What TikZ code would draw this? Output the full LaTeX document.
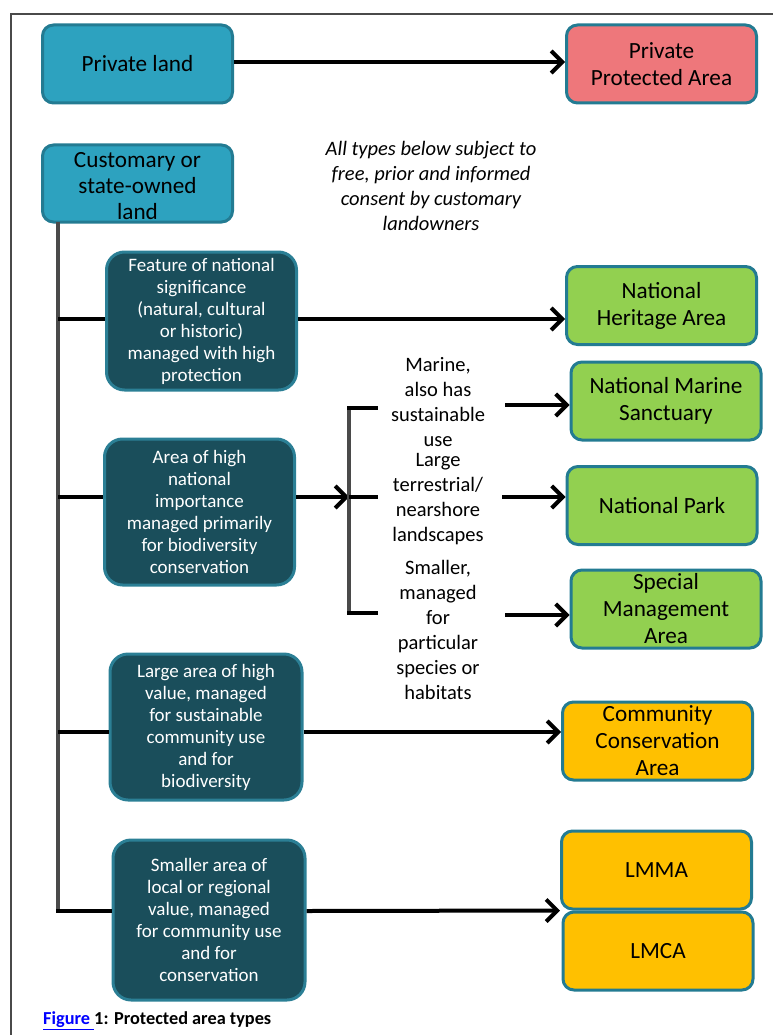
\documentclass[tikz,border=0pt]{standalone}
\usepackage{fontspec}
\setmainfont{Carlito}
\usepackage{xcolor}
\usetikzlibrary{arrows.meta}
\definecolor{lightteal}{HTML}{2DA2BF}
\definecolor{edgeteal}{HTML}{237B92}
\definecolor{darkteal}{HTML}{1A4E5B}
\definecolor{darkedge}{HTML}{2B7F95}
\definecolor{pinkfill}{HTML}{EE777B}
\definecolor{greenfill}{HTML}{92D050}
\definecolor{amberfill}{HTML}{FFC000}
\definecolor{trunkgray}{HTML}{4A4A4A}
\tikzset{
  box/.style={draw=edgeteal, line width=3pt, rounded corners=11pt, align=center,
    minimum width=190pt, minimum height=78pt, inner sep=0pt,
    font={\fontsize{23.2}{27}\selectfont}},
  lightbox/.style={box, fill=lightteal},
  darkbox/.style={box, fill=darkteal, draw=darkedge, text=white, rounded corners=18pt,
    font={\fontsize{19}{22}\selectfont}},
  pinkbox/.style={box, fill=pinkfill},
  greenbox/.style={box, fill=greenfill},
  amberbox/.style={box, fill=amberfill},
  link/.style={line width=4pt},
  arr/.style={line width=4pt, -{Straight Barb[length=11pt,width=22pt,line width=4pt]}},
  label/.style={align=center, inner sep=0pt, font={\fontsize{20.5}{25}\selectfont}}
}
\begin{document}
\begin{tikzpicture}[x=1pt,y=-1pt]
  \useasboundingbox (0,0) rectangle (773,1035);
  \draw [trunkgray, line width=1.5pt] (11,1035) -- (11,14) -- (773,14);

  \node [lightbox] (priv) at (137.5,64) {Private land};
  \node [pinkbox] (ppa) at (661.5,64) {Private\\Protected Area};
  \node [lightbox, minimum height=77pt, font={\fontsize{23.2}{26}\selectfont}] (cust) at (137.5,183.5) {};
  \node [align=center, inner sep=0pt, font={\fontsize{23.2}{26}\selectfont}] (custtext) at (137.5,186) {Customary or\\state-owned\\land};
  \node [label, font={\fontsize{20.5}{25}\selectfont\itshape}] (note) at (431,186)
    {All types below subject to\\free, prior and informed\\consent by customary\\landowners};

  \node [darkbox, minimum height=138pt] (d1) at (201.5,321)
    {Feature of national\\significance\\(natural, cultural\\or historic)\\managed with high\\protection};
  \node [darkbox, minimum height=146pt] (d2) at (199.5,512)
    {Area of high\\national\\importance\\managed primarily\\for biodiversity\\conservation};
  \node [darkbox, minimum height=146pt, minimum width=192pt] (d3) at (206,727)
    {Large area of high\\value, managed\\for sustainable\\community use\\and for\\biodiversity};
  \node [darkbox, minimum height=160pt, minimum width=192pt] (d4) at (209,920)
    {Smaller area of\\local or regional\\value, managed\\for community use\\and for\\conservation};

  \node [greenbox] (nha) at (661.5,305.5) {National\\Heritage Area};
  \node [greenbox] (nms) at (666,401) {National Marine\\Sanctuary};
  \node [greenbox] (np) at (662,505.5) {National Park};
  \node [greenbox] (sma) at (666,609) {Special\\Management\\Area};
  \node [amberbox] (cca) at (657.5,741) {Community\\Conservation\\Area};
  \node [amberbox] (lmma) at (656.5,870) {LMMA};
  \node [amberbox] (lmca) at (658,951) {LMCA};

  \node [label] (m1) at (438,402) {Marine,\\also has\\sustainable\\use};
  \node [label] (m2) at (438,499) {Large\\terrestrial/\\nearshore\\landscapes};
  \node [label] (m3) at (438,630) {Smaller,\\managed\\for\\particular\\species or\\habitats};

  \coordinate (ttop) at (58,222);
  \coordinate (tbot) at (58,913);
  \draw [trunkgray, line width=4pt] (ttop) -- (tbot);
  \draw [link] (58,319) -- (d1.west |- 0,319);
  \draw [link] (58,497) -- (d2.west |- 0,497);
  \draw [link] (58,732) -- (d3.west |- 0,732);
  \draw [link] (56,911) -- (d4.west |- 0,911);

  \draw [arr] (priv.east |- 0,62) -- (ppa.west |- 0,62);
  \draw [arr] (d1.east |- 0,319) -- (nha.west |- 0,319);
  \draw [arr] (d3.east |- 0,732) -- (cca.west |- 0,732);
  \draw [arr] (d4.east |- 0,911) -- (lmma.south west);

  \coordinate (b1) at (349,408);
  \coordinate (b2) at (349,497);
  \coordinate (b3) at (349,613);
  \draw [arr] (d2.east |- b2) -- (b2);
  \draw [trunkgray, line width=4pt] (b1) -- (b3);
  \draw [link] (347,408) -- ++(31,0);
  \draw [link] (b2) -- ++(29,0);
  \draw [link] (347,613) -- ++(31,0);

  \coordinate (a1) at (505,405);
  \coordinate (a2) at (502,497);
  \coordinate (a3) at (505,615);
  \draw [arr] (a1) -- (a1 -| nms.west);
  \draw [arr] (a2) -- (a2 -| np.west);
  \draw [arr] (a3) -- (a3 -| sma.west);

  \node [anchor=west, inner sep=0pt, font={\fontsize{18.3}{20}\selectfont\bfseries}] (cap) at (43,1021)
    {\textcolor{blue}{\underline{Figure }}1: Protected area types};
\end{tikzpicture}
\end{document}
